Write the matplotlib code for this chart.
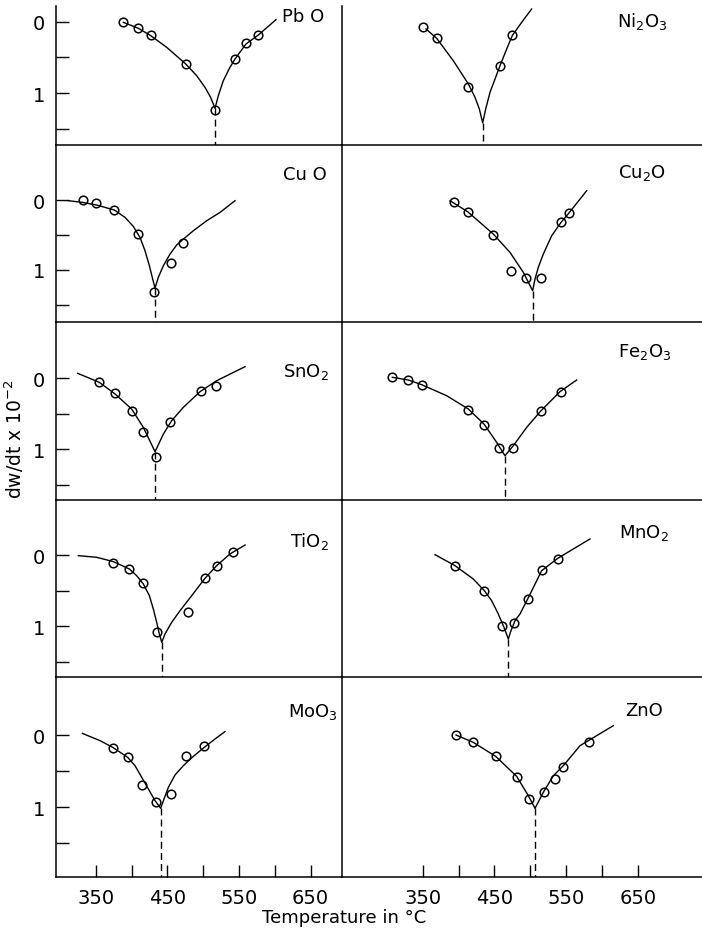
import matplotlib
matplotlib.use('Agg')
import matplotlib.pyplot as plt

plt.rcParams['font.family'] = ['DejaVu Sans']
plt.rcParams['mathtext.default'] = 'regular'

# ---------------- data (temperature in °C, dw/dt x 10^-2) ----------------
pbo_pts_T = [388.6, 409.5, 426.7, 475.6, 516.5, 544.4, 559.7, 577.0]
pbo_pts_v = [0.00, 0.08, 0.19, 0.59, 1.235, 0.52, 0.30, 0.18]
pbo_line_T = [388.6, 409.5, 426.7, 449.1, 475.6, 490.9, 502.5, 510.4, 516.5, 521.1, 528.1, 537.4, 544.4, 559.7, 577.0, 601.6]
pbo_line_v = [0.005, 0.089, 0.192, 0.357, 0.591, 0.756, 0.92, 1.061, 1.216, 1.038, 0.826, 0.638, 0.521, 0.31, 0.183, -0.033]

ni_pts_T = [350.9, 369.5, 413.7, 457.9, 475.1]
ni_pts_v = [0.075, 0.23, 0.91, 0.615, 0.19]
ni_line_T = [354.6, 369.5, 392.7, 413.7, 423.0, 429.0, 433.7, 437.9, 443.9, 450.9, 457.9, 467.2, 475.1, 488.1, 502.0]
ni_line_v = [0.099, 0.23, 0.545, 0.873, 1.061, 1.225, 1.42, 1.225, 0.991, 0.803, 0.615, 0.38, 0.19, 0.005, -0.183]

cuo_pts_T = [331.8, 350.0, 376.0, 408.6, 431.8, 455.1, 472.3]
cuo_pts_v = [0.0, 0.048, 0.143, 0.486, 1.32, 0.905, 0.62]
cuo_line_T = [311.8, 331.8, 351.4, 376.0, 390.9, 402.5, 411.8, 418.8, 424.9, 429.5, 432.8,
              437.4, 444.4, 453.7, 463.0, 472.3, 486.3, 504.9, 523.5, 544.4]
cuo_line_v = [0.010, 0.034, 0.072, 0.143, 0.248, 0.377, 0.534, 0.724, 0.939, 1.129, 1.258,
              1.105, 0.939, 0.772, 0.643, 0.558, 0.439, 0.296, 0.177, 0.010]

cu2o_pts_T = [394.1, 412.7, 448.5, 472.7, 494.1, 514.6, 543.0, 554.1]
cu2o_pts_v = [0.034, 0.176, 0.50, 1.01, 1.12, 1.12, 0.32, 0.186]
cu2o_line_T = [388.1, 412.7, 448.5, 471.8, 490.4, 503.4, 506.7, 511.3, 518.3, 530.0, 543.0, 555.5, 578.8]
cu2o_line_v = [0.01, 0.167, 0.486, 0.748, 1.034, 1.296, 1.129, 0.962, 0.772, 0.51, 0.32, 0.167, -0.133]

sno2_pts_T = [355.1, 377.0, 400.2, 416.5, 434.2, 453.7, 497.0, 517.9]
sno2_pts_v = [0.052, 0.211, 0.46, 0.765, 1.117, 0.624, 0.178, 0.108]
sno2_line_T = [324.9, 355.1, 377.0, 400.2, 416.5, 432.8, 444.4, 456.0, 472.3, 495.6, 518.8, 558.4]
sno2_line_v = [-0.066, 0.061, 0.225, 0.437, 0.695, 1.038, 0.789, 0.601, 0.413, 0.192, 0.038, -0.16]

fe2o3_pts_T = [307.6, 330.0, 348.6, 413.7, 435.5, 456.5, 476.4, 515.1, 542.5]
fe2o3_pts_v = [-0.01, 0.028, 0.094, 0.45, 0.662, 0.986, 0.986, 0.47, 0.202]
fe2o3_line_T = [307.6, 330.0, 348.6, 383.4, 413.7, 435.5, 453.2, 464.8, 476.4, 495.1, 515.1, 541.6, 564.8]
fe2o3_line_v = [-0.01, 0.028, 0.094, 0.249, 0.437, 0.648, 0.906, 1.094, 0.953, 0.695, 0.46, 0.192, 0.028]

tio2_pts_T = [374.6, 397.0, 416.5, 436.0, 478.4, 502.5, 518.8, 542.1]
tio2_pts_v = [0.112, 0.197, 0.399, 1.089, 0.798, 0.324, 0.159, -0.047]
tio2_line_T = [325.8, 351.4, 374.6, 397.0, 407.2, 416.5, 424.9, 430.4, 435.1, 438.8, 442.1,
               446.7, 456.0, 467.7, 484.0, 502.5, 518.8, 537.4, 558.4]
tio2_line_v = [0.009, 0.032, 0.093, 0.197, 0.291, 0.408, 0.572, 0.76, 0.948, 1.112, 1.23,
               1.112, 0.948, 0.784, 0.572, 0.328, 0.15, -0.015, -0.141]

mno2_pts_T = [395.1, 436.0, 460.2, 477.4, 496.5, 516.9, 538.3]
mno2_pts_v = [0.159, 0.502, 0.995, 0.957, 0.619, 0.206, 0.056]
mno2_line_T = [367.2, 395.1, 420.6, 436.0, 446.2, 455.5, 463.4, 469.5, 472.7, 478.8, 485.7, 496.5, 516.0, 538.3, 583.4]
mno2_line_v = [-0.005, 0.15, 0.338, 0.502, 0.643, 0.831, 1.018, 1.183, 1.079, 0.925, 0.831, 0.619, 0.22, 0.047, -0.226]

moo3_pts_T = [373.7, 394.6, 414.2, 434.2, 454.6, 476.0, 501.6]
moo3_pts_v = [0.18, 0.301, 0.689, 0.935, 0.819, 0.296, 0.157]
moo3_line_T = [331.4, 356.0, 373.7, 394.6, 404.9, 414.2, 423.5, 432.8, 440.7,
               445.3, 451.4, 460.7, 472.3, 486.3, 501.6, 516.5, 530.4]
moo3_line_v = [-0.023, 0.078, 0.171, 0.31, 0.426, 0.588, 0.75, 0.912, 1.018,
               0.889, 0.727, 0.555, 0.426, 0.296, 0.171, 0.055, -0.047]

zno_pts_T = [396.5, 420.6, 451.8, 481.1, 498.3, 519.2, 534.6, 546.2, 582.5]
zno_pts_v = [0.0, 0.102, 0.296, 0.588, 0.889, 0.787, 0.611, 0.449, 0.102]
zno_line_T = [396.5, 420.6, 451.8, 481.1, 497.4, 506.7, 518.3, 532.3, 546.2, 569.5, 581.1, 616.0]
zno_line_v = [0.0, 0.102, 0.296, 0.574, 0.843, 1.018, 0.796, 0.565, 0.426, 0.148, 0.078, -0.13]

panel_names = ['Pb O', 'Ni$_2$O$_3$', 'Cu O', 'Cu$_2$O', 'SnO$_2$', 'Fe$_2$O$_3$',
               'TiO$_2$', 'MnO$_2$', 'MoO$_3$', 'ZnO']
x_tick_values = [350, 400, 450, 500, 550, 600, 650]
x_tick_labels = ['350', '', '450', '', '550', '', '650']
y_tick_values = [0, 1]
y_tick_labels = ['0', '1']

panels = [
    (pbo_pts_T, pbo_pts_v, pbo_line_T, pbo_line_v),
    (ni_pts_T, ni_pts_v, ni_line_T, ni_line_v),
    (cuo_pts_T, cuo_pts_v, cuo_line_T, cuo_line_v),
    (cu2o_pts_T, cu2o_pts_v, cu2o_line_T, cu2o_line_v),
    (sno2_pts_T, sno2_pts_v, sno2_line_T, sno2_line_v),
    (fe2o3_pts_T, fe2o3_pts_v, fe2o3_line_T, fe2o3_line_v),
    (tio2_pts_T, tio2_pts_v, tio2_line_T, tio2_line_v),
    (mno2_pts_T, mno2_pts_v, mno2_line_T, mno2_line_v),
    (moo3_pts_T, moo3_pts_v, moo3_line_T, moo3_line_v),
    (zno_pts_T, zno_pts_v, zno_line_T, zno_line_v),
]

# ---------------- layout ----------------
W, H = 702, 937
fig = plt.figure(figsize=(W / 100, H / 100), dpi=100)

col_px = [(56, 342), (342, 702)]
row_px = [(7, 146), (146, 323), (323, 501), (501, 678), (678, 878)]
row_ylim = [(1.732, -0.225), (1.743, -0.786), (1.718, -0.789), (1.718, -0.775), (1.972, -0.806)]
col_xlim = [(294.6, 693.7), (237.4, 739.7)]
label_pos = [(609.8, -0.085), (621.0, -0.014), (611.2, -0.37), (622.5, -0.40),
             (611.2, -0.10), (622.5, -0.38), (621.0, -0.20), (624.0, -0.32),
             (618.0, -0.33), (632.0, -0.35)]

for i, (pT, pv, lT, lv) in enumerate(panels):
    r, c = divmod(i, 2)
    x0, x1 = col_px[c]
    y0, y1 = row_px[r]
    ax = fig.add_axes([x0 / W, 1 - y1 / H, (x1 - x0) / W, (y1 - y0) / H])
    ax.set_xlim(*col_xlim[c])
    ax.set_ylim(*row_ylim[r])
    ax.patch.set_alpha(0)
    ax.spines['top'].set_visible(False)
    ax.spines['right'].set_visible(False)
    for s in ('left', 'bottom'):
        ax.spines[s].set_linewidth(1.1)

    ax.plot(lT, lv, color='black', lw=1.0, solid_joinstyle='round')
    ax.plot(pT, pv, linestyle='none', marker='o', markersize=6.2,
            markerfacecolor='none', markeredgecolor='black', markeredgewidth=1.1)
    k = max(range(len(lv)), key=lambda j: lv[j])
    ax.plot([lT[k], lT[k]], [lv[k], row_ylim[r][0]], color='black', lw=1.0,
            dashes=(5, 3))

    lx, ly = label_pos[i]
    ax.text(lx, ly, panel_names[i], fontsize=13, ha='left', va='center')

    if c == 0:
        ax.set_yticks(y_tick_values)
        ax.set_yticklabels(y_tick_labels)
        ax.set_yticks([0.5, 1.5], minor=True)
        ax.tick_params(axis='y', which='both', direction='in', length=9, width=1,
                       labelsize=14, pad=8)
    else:
        ax.set_yticks([])
    if r == 4:
        ax.set_xticks(x_tick_values)
        ax.set_xticklabels(x_tick_labels)
        ax.tick_params(axis='x', direction='in', length=9, width=1, labelsize=14, pad=8)
    else:
        ax.set_xticks([])

fig.text(0.021, 0.532, 'dw/dt x 10$^{-2}$', rotation=90, ha='center', va='center',
         fontsize=13.5)
fig.text(0.49, 0.02, 'Temperature in °C', ha='center', va='center', fontsize=13)

fig.savefig('out.png', dpi=100)
